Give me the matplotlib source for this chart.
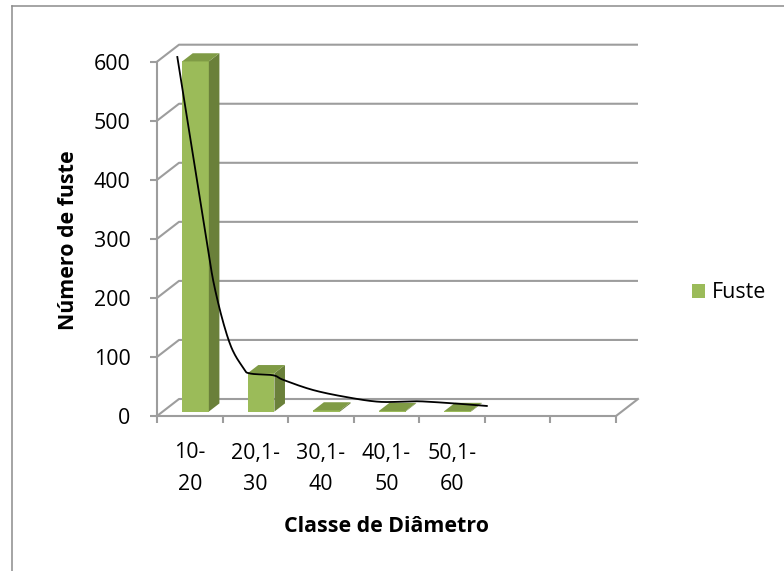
import matplotlib
matplotlib.use("Agg")
import matplotlib.pyplot as plt
from matplotlib.patches import Polygon, Patch
from matplotlib.lines import Line2D
import numpy as np

# ---- data -------------------------------------------------------------
categories = ["10-20", "20,1-30", "30,1-40", "40,1-50", "50,1-60"]
fuste = [593, 65, 2, 1, 1]
n_slots = 7                      # category slots on the floor axis
y_ticks = [0, 100, 200, 300, 400, 500, 600]

# hand-drawn decay curve (x in category units, y in number of stems)
curve_x = [0.31, 0.73, 0.89, 1.11, 1.32, 1.42, 1.77, 1.93, 2.38, 2.89,
           3.40, 3.91, 4.16, 4.57, 5.03]
curve_y = [608, 315, 212, 123, 81, 72, 69, 61, 44, 32,
           24, 25, 24, 21, 17]

# ---- style ------------------------------------------------------------
plt.rcParams['font.family'] = ['Open Sans', 'DejaVu Sans']
FS = 15.4
GRID = '#9d9d9d'
FRONT = '#9BBB59'
SIDE = '#6A803A'
TOP = '#7F9B45'

W, H = 784, 571
fig = plt.figure(figsize=(W / 100, H / 100), dpi=100)

# plot-frame geometry in pixels
x0_px, xN_px = 157.0, 616.0
y0_px, y600_px = 416.0, 61.7
ppc = (xN_px - x0_px) / n_slots          # pixels per category
ppv = (y0_px - y600_px) / 600.0          # pixels per unit
xlim = (-0.6, 7.7)
ylim = (-60, 660)
left = x0_px + xlim[0] * ppc
right = x0_px + xlim[1] * ppc
bottom = y0_px - ylim[0] * ppv
top = y0_px - ylim[1] * ppv
ax = fig.add_axes([left / W, 1 - bottom / H, (right - left) / W, (bottom - top) / H])
ax.set_xlim(*xlim)
ax.set_ylim(*ylim)

# oblique depth of the 3-D box
DX = 22.0 / ppc
DY = 17.0 / ppv

# back wall gridlines with their diagonal returns
for v in y_ticks:
    ax.plot([0, DX, n_slots + DX], [v, v + DY, v + DY], color=GRID, lw=1.5,
            zorder=1, solid_capstyle='butt')
# floor front/right edges
ax.plot([n_slots, n_slots + DX], [0, DY], color=GRID, lw=1.5, zorder=1)

# axes spines and ticks
for s in ['top', 'right']:
    ax.spines[s].set_visible(False)
ax.spines['left'].set_position(('data', 0))
ax.spines['left'].set_bounds(0, 600)
ax.spines['bottom'].set_position(('data', 0))
ax.spines['bottom'].set_bounds(0, n_slots)
for s in ['left', 'bottom']:
    ax.spines[s].set_color(GRID)
    ax.spines[s].set_linewidth(1.5)
ax.set_yticks(y_ticks)
ax.set_yticklabels([str(v) for v in y_ticks], fontsize=FS)
ax.set_xticks(range(n_slots + 1))
ax.set_xticklabels([])
ax.tick_params(axis='both', color=GRID, width=1.5, length=5)
ax.tick_params(axis='y', pad=14)

# 3-D columns
f0, f1 = 0.26, 0.74
bw = 0.407
for i, v in enumerate(fuste):
    xl = i + 0.5 - bw / 2 + f0 * DX
    xr = xl + bw
    yb = f0 * DY
    yt = yb + v
    ddx = (f1 - f0) * DX
    ddy = (f1 - f0) * DY
    ax.add_patch(Polygon([(xl, yb), (xr, yb), (xr, yt), (xl, yt)],
                         closed=True, facecolor=FRONT, edgecolor='none', zorder=3))
    ax.add_patch(Polygon([(xr, yb), (xr + ddx, yb + ddy), (xr + ddx, yt + ddy), (xr, yt)],
                         closed=True, facecolor=SIDE, edgecolor='none', zorder=3))
    ax.add_patch(Polygon([(xl, yt), (xr, yt), (xr + ddx, yt + ddy), (xl + ddx, yt + ddy)],
                         closed=True, facecolor=TOP, edgecolor='none', zorder=3))

# category labels, wrapped after the dash
for i, lab in enumerate(categories):
    a, b = lab.split('-', 1)
    ax.annotate(a + '-', xy=(i + 0.5, 0), xytext=(0, -37), textcoords='offset pixels',
                ha='center', va='center', fontsize=FS)
    ax.annotate(b, xy=(i + 0.5, 0), xytext=(0, -68), textcoords='offset pixels',
                ha='center', va='center', fontsize=FS)

# smooth curve through the knots (Catmull-Rom)
def catmull_rom(xs, ys, n=20):
    p = np.column_stack([xs, ys]).astype(float)
    p = np.vstack([2 * p[0] - p[1], p, 2 * p[-1] - p[-2]])
    out = []
    t = np.linspace(0, 1, n, endpoint=False)[:, None]
    for k in range(1, len(p) - 2):
        p0, p1, p2, p3 = p[k - 1], p[k], p[k + 1], p[k + 2]
        seg = 0.5 * ((2 * p1) + (-p0 + p2) * t + (2 * p0 - 5 * p1 + 4 * p2 - p3) * t ** 2
                     + (-p0 + 3 * p1 - 3 * p2 + p3) * t ** 3)
        out.append(seg)
    out.append(p[-2][None, :])
    return np.vstack(out)

cr = catmull_rom(curve_x, curve_y)
ax.plot(cr[:, 0], cr[:, 1], color='black', lw=1.3, zorder=5)

# axis titles
fig.text(386.5 / W, 1 - 526 / H, 'Classe de Diâmetro', ha='center', va='center',
         fontsize=FS, fontweight='bold')
fig.text(68.5 / W, 1 - 240 / H, 'Número de fuste', ha='center', va='center',
         rotation=90, fontsize=FS, fontweight='bold')

# legend
fig.legend(handles=[Patch(facecolor=FRONT, edgecolor='none', label='Fuste')],
           loc='center left', bbox_to_anchor=(691.5 / W, 1 - 293 / H),
           frameon=False, fontsize=FS, handlelength=0.63, handleheight=0.63,
           handletextpad=0.33, borderpad=0, borderaxespad=0)

# chart-area border
fig.add_artist(Line2D([11.8 / W, 11.8 / W], [0, 1 - 6.3 / H], color='#8c8c8c', lw=1.1,
                      transform=fig.transFigure))
fig.add_artist(Line2D([11.8 / W, 1], [1 - 6.3 / H, 1 - 6.3 / H], color='#8c8c8c', lw=1.1,
                      transform=fig.transFigure))

fig.savefig('out.png', dpi=100)
